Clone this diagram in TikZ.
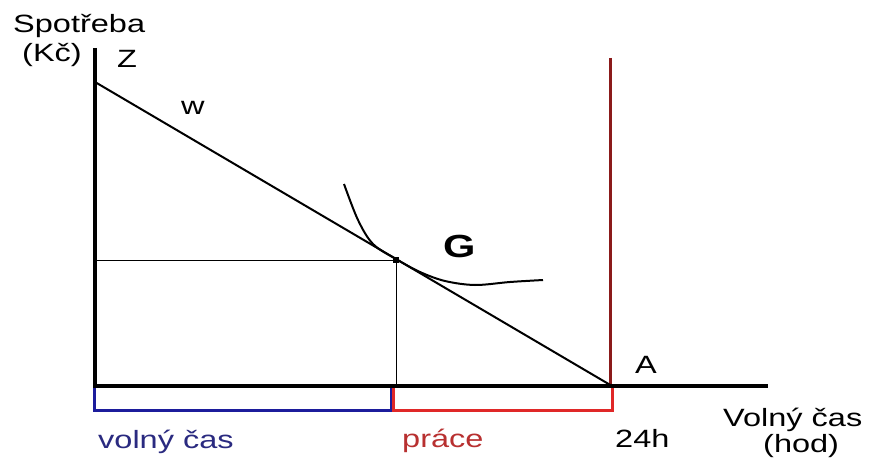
\documentclass[tikz,border=0pt]{standalone}
\usepackage{fontspec}
\setmainfont{Liberation Sans}[FakeStretch=1.3]
\begin{document}
\begin{tikzpicture}[x=1pt,y=-1pt,
  lbl/.style={inner sep=0pt,anchor=base west,font=\fontsize{25}{27}\selectfont},
  axisline/.style={line width=4pt},
  thinline/.style={line width=1pt}]
\definecolor{navy}{HTML}{1C1C9C}
\definecolor{brightred}{HTML}{E02828}
\definecolor{darkred}{HTML}{8B1A1A}
\definecolor{labelblue}{HTML}{2A2A80}
\definecolor{labelred}{HTML}{B83030}
\useasboundingbox (0,0) rectangle (877,462);
\fill[white] (0,0) rectangle (877,462);
% key points
\coordinate (O) at (95,386);
\coordinate (Ytop) at (95,48);
\coordinate (Xend) at (768,386);
\coordinate (Z) at (95,82);
\coordinate (A) at (612,386);
\coordinate (G) at (396,260);
\coordinate (Gy) at (95,260);
\coordinate (Gx) at (396,386);
\coordinate (Rtop) at (610,58);
\coordinate (Rbot) at (610,386);
% bracket rectangles
\draw[navy,line width=3pt] (94,386) rectangle (391,410);
\draw[brightred,line width=3pt] (393,386) rectangle (612,410);
% red vertical
\draw[darkred,line width=3pt] (Rtop) -- (Rbot);
% axes
\draw[axisline] (Ytop) -- (O) -- (Xend);
% budget line
\draw[line width=2pt] (Z) -- (A);
% projections
\draw[thinline] (Gy) -- (G) -- (Gx);
% indifference curve
\draw[line width=2pt] plot[smooth,tension=0.55] coordinates {(344,184) (358,220) (373,244) (396,259) (420,272) (445,281) (475,285) (510,282) (543,280)};
\fill (G) ++(-3,-3) rectangle ++(6,6);
% labels
\node[lbl] (spotreba) at (13,33) {Spotřeba};
\node[lbl] (kc) at (22,62) {(Kč)};
\node[lbl] (zl) at (117,68) {Z};
\node[lbl] (wl) at (181,115) {w};
\node[inner sep=0pt,anchor=base west,font=\fontsize{32}{34}\selectfont\bfseries] (gl) at (443,258) {G};
\node[lbl] (al) at (635,373) {A};
\node[lbl,text=labelblue] (vc) at (98,448) {volný čas};
\node[lbl,text=labelred] (pr) at (402,447) {práce};
\node[lbl] (h24) at (615,447) {24h};
\node[lbl] (vx) at (723,426) {Volný čas};
\node[lbl] (hod) at (763,452) {(hod)};
\end{tikzpicture}
\end{document}
